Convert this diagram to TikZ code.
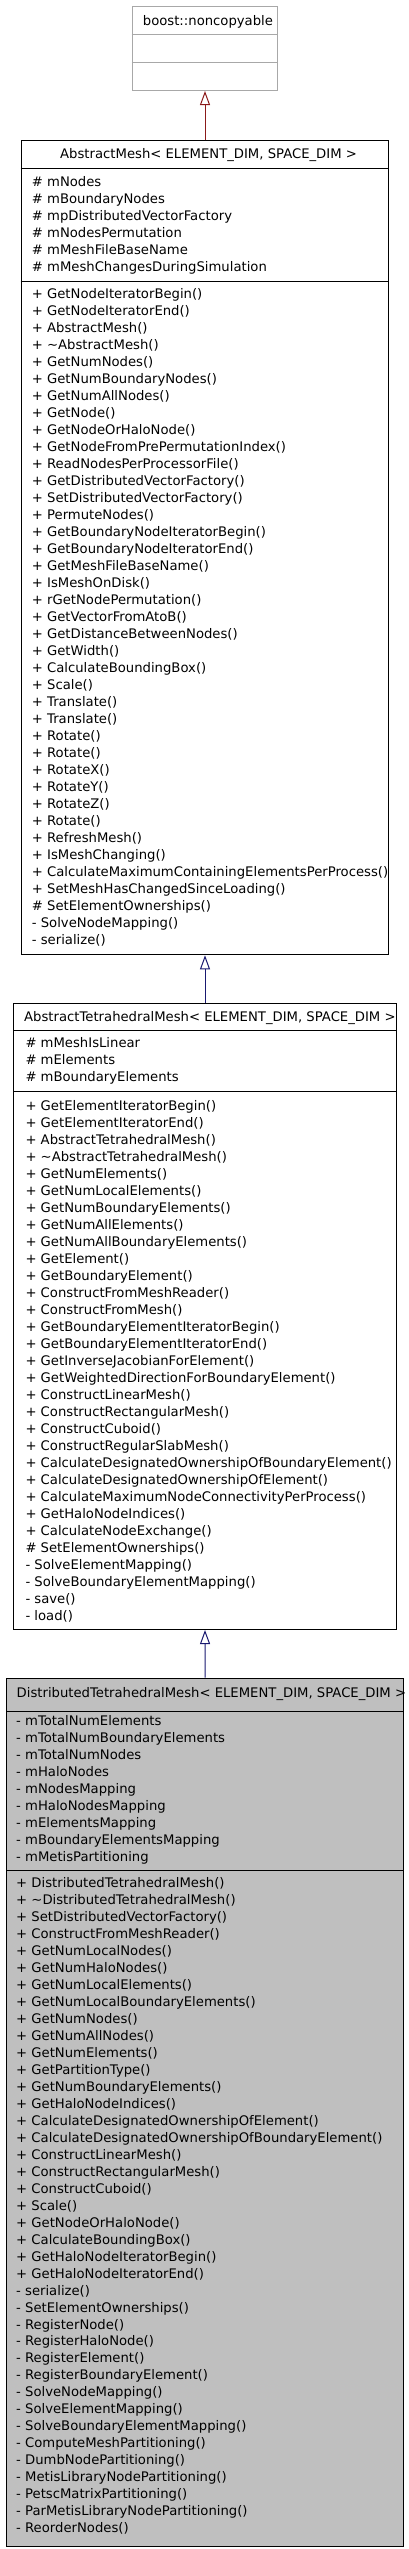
\documentclass[tikz,border=0pt]{standalone}
\usepackage{fontspec}
\setmainfont{DejaVu Sans}
\usetikzlibrary{arrows.meta}
\definecolor{boxgray}{HTML}{BFBFBF}
\definecolor{lightborder}{HTML}{A8A8A8}
\definecolor{privred}{HTML}{8B1A1A}
\definecolor{pubblue}{HTML}{191970}
\begin{document}
\begin{tikzpicture}[x=1pt,y=-1pt,
  txt/.style={anchor=base west, inner sep=0pt, font=\fontsize{13.2}{17}\selectfont},
  cls/.style={draw=black, line width=1pt, inner sep=0pt, anchor=north west},
  sep/.style={line width=1pt},
  inh/.style={line width=1pt, -{Triangle[open,length=14pt,width=10pt,fill=white]}}]
\useasboundingbox (0,0) rectangle (408,2549);

% ---------- boxes ----------
\node[cls, draw=lightborder, minimum width=145.6pt, minimum height=83.7pt] (nc) at (131.7,6.3) {};
\draw[sep, lightborder] (nc.west |- 0,34.3) -- (nc.east |- 0,34.3);
\draw[sep, lightborder] (nc.west |- 0,62.3) -- (nc.east |- 0,62.3);

\node[cls, minimum width=367.6pt, minimum height=814pt] (am) at (20.7,140.3) {};
\draw[sep] (am.west |- 0,168.3) -- (am.east |- 0,168.3);
\draw[sep] (am.west |- 0,281) -- (am.east |- 0,281);

\node[cls, minimum width=382.4pt, minimum height=626.3pt] (atm) at (13.3,1002.7) {};
\draw[sep] (atm.west |- 0,1030.3) -- (atm.east |- 0,1030.3);
\draw[sep] (atm.west |- 0,1091.7) -- (atm.east |- 0,1091.7);

\node[cls, fill=boxgray, minimum width=397.3pt, minimum height=868.3pt] (dtm) at (6,1677.7) {};
\draw[sep] (dtm.west |- 0,1711.7) -- (dtm.east |- 0,1711.7);
\draw[sep] (dtm.west |- 0,1870.7) -- (dtm.east |- 0,1870.7);

% ---------- inheritance ----------
\draw[inh, privred] (am.north) -- (nc.south);
\draw[inh, pubblue] (atm.north) -- (am.south);
\draw[inh, pubblue] (dtm.north) -- (atm.south);

% ---------- texts ----------
\node[txt] (nc-t) at (142.7,25.2) {boost::noncopyable};

\node[txt] (am-t) at (60,158.4) {AbstractMesh< ELEMENT\_DIM, SPACE\_DIM >};
\foreach \t [count=\i] in {\# mNodes, \# mBoundaryNodes, \# mpDistributedVectorFactory,
  \# mNodesPermutation, \# mMeshFileBaseName, \# mMeshChangesDuringSimulation}
  \node[txt] (am-a\i) at (31.7,{186.2+(\i-1)*17}) {\t};
\foreach \t [count=\i] in {+ GetNodeIteratorBegin(), + GetNodeIteratorEnd(), + AbstractMesh(),
  + \textasciitilde AbstractMesh(), + GetNumNodes(), + GetNumBoundaryNodes(), + GetNumAllNodes(),
  + GetNode(), + GetNodeOrHaloNode(), + GetNodeFromPrePermutationIndex(),
  + ReadNodesPerProcessorFile(), + GetDistributedVectorFactory(), + SetDistributedVectorFactory(),
  + PermuteNodes(), + GetBoundaryNodeIteratorBegin(), + GetBoundaryNodeIteratorEnd(),
  + GetMeshFileBaseName(), + IsMeshOnDisk(), + rGetNodePermutation(), + GetVectorFromAtoB(),
  + GetDistanceBetweenNodes(), + GetWidth(), + CalculateBoundingBox(), + Scale(),
  + Translate(), + Translate(), + Rotate(), + Rotate(), + RotateX(), + RotateY(), + RotateZ(),
  + Rotate(), + RefreshMesh(), + IsMeshChanging(),
  + CalculateMaximumContainingElementsPerProcess(), + SetMeshHasChangedSinceLoading(),
  \# SetElementOwnerships(), - SolveNodeMapping(), - serialize()}
  \node[txt] (am-m\i) at (31.7,{298.8+(\i-1)*16.99}) {\t};

\node[txt] (atm-t) at (24,1021.2) {AbstractTetrahedralMesh< ELEMENT\_DIM, SPACE\_DIM >};
\foreach \t [count=\i] in {\# mMeshIsLinear, \# mElements, \# mBoundaryElements}
  \node[txt] (atm-a\i) at (25.3,{1047.8+(\i-1)*17}) {\t};
\foreach \t [count=\i] in {+ GetElementIteratorBegin(), + GetElementIteratorEnd(),
  + AbstractTetrahedralMesh(), + \textasciitilde AbstractTetrahedralMesh(), + GetNumElements(),
  + GetNumLocalElements(), + GetNumBoundaryElements(), + GetNumAllElements(),
  + GetNumAllBoundaryElements(), + GetElement(), + GetBoundaryElement(),
  + ConstructFromMeshReader(), + ConstructFromMesh(), + GetBoundaryElementIteratorBegin(),
  + GetBoundaryElementIteratorEnd(), + GetInverseJacobianForElement(),
  + GetWeightedDirectionForBoundaryElement(), + ConstructLinearMesh(),
  + ConstructRectangularMesh(), + ConstructCuboid(), + ConstructRegularSlabMesh(),
  + CalculateDesignatedOwnershipOfBoundaryElement(), + CalculateDesignatedOwnershipOfElement(),
  + CalculateMaximumNodeConnectivityPerProcess(), + GetHaloNodeIndices(),
  + CalculateNodeExchange(), \# SetElementOwnerships(), - SolveElementMapping(),
  - SolveBoundaryElementMapping(), - save(), - load()}
  \node[txt] (atm-m\i) at (25.3,{1110.2+(\i-1)*17}) {\t};

\node[txt] (dtm-t) at (16.5,1697.8) {DistributedTetrahedralMesh< ELEMENT\_DIM, SPACE\_DIM >};
\foreach \t [count=\i] in {- mTotalNumElements, - mTotalNumBoundaryElements, - mTotalNumNodes,
  - mHaloNodes, - mNodesMapping, - mHaloNodesMapping, - mElementsMapping,
  - mBoundaryElementsMapping, - mMetisPartitioning}
  \node[txt] (dtm-a\i) at (16,{1725.2+(\i-1)*17}) {\t};
\foreach \t [count=\i] in {+ DistributedTetrahedralMesh(), + \textasciitilde DistributedTetrahedralMesh(),
  + SetDistributedVectorFactory(), + ConstructFromMeshReader(), + GetNumLocalNodes(),
  + GetNumHaloNodes(), + GetNumLocalElements(), + GetNumLocalBoundaryElements(),
  + GetNumNodes(), + GetNumAllNodes(), + GetNumElements(), + GetPartitionType(),
  + GetNumBoundaryElements(), + GetHaloNodeIndices(), + CalculateDesignatedOwnershipOfElement(),
  + CalculateDesignatedOwnershipOfBoundaryElement(), + ConstructLinearMesh(),
  + ConstructRectangularMesh(), + ConstructCuboid(), + Scale(), + GetNodeOrHaloNode(),
  + CalculateBoundingBox(), + GetHaloNodeIteratorBegin(), + GetHaloNodeIteratorEnd(),
  - serialize(), - SetElementOwnerships(), - RegisterNode(), - RegisterHaloNode(),
  - RegisterElement(), - RegisterBoundaryElement(), - SolveNodeMapping(),
  - SolveElementMapping(), - SolveBoundaryElementMapping(), - ComputeMeshPartitioning(),
  - DumbNodePartitioning(), - MetisLibraryNodePartitioning(), - PetscMatrixPartitioning(),
  - ParMetisLibraryNodePartitioning(), - ReorderNodes()}
  \node[txt] (dtm-m\i) at (16,{1887.5+(\i-1)*16.98}) {\t};
\end{tikzpicture}
\end{document}
